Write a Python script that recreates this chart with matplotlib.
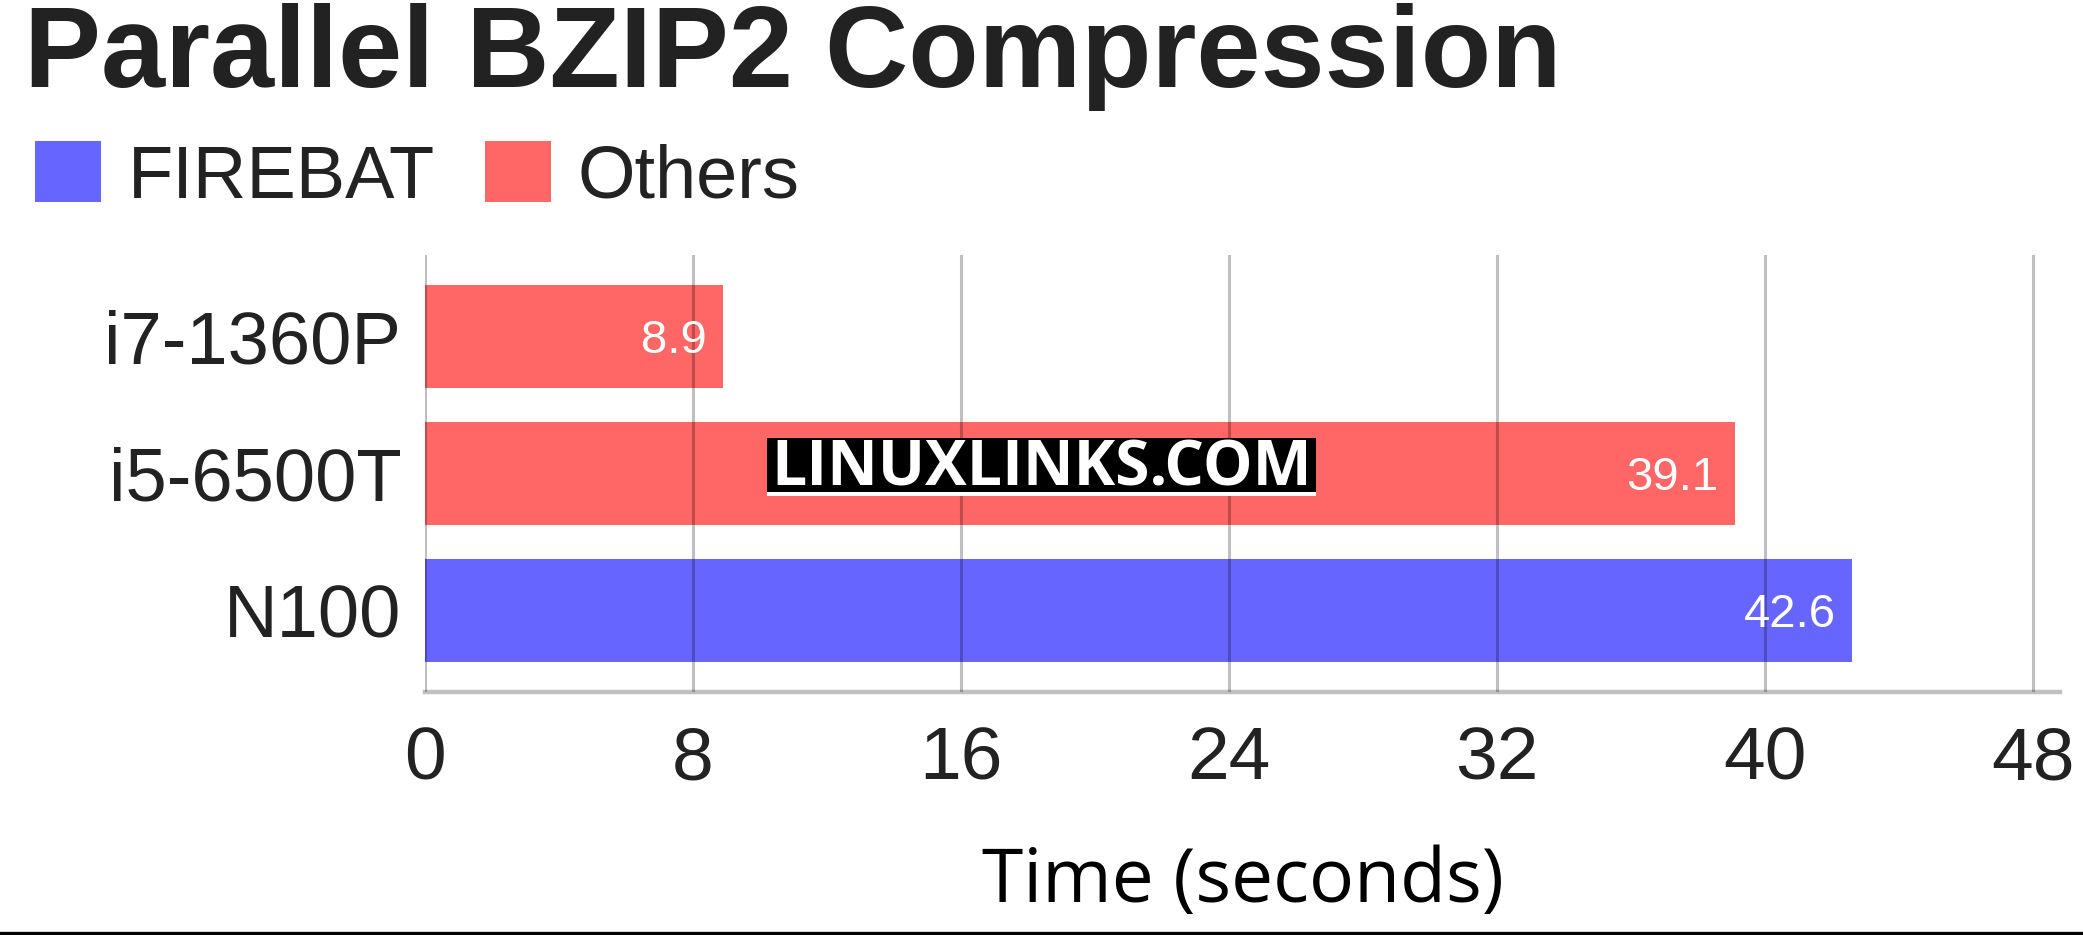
import matplotlib
matplotlib.use("Agg")
import matplotlib.pyplot as plt
from matplotlib.patches import Patch, Rectangle
from matplotlib.lines import Line2D

# data
cpus = ["i7-1360P", "i5-6500T", "N100"]
times = [8.9, 39.1, 42.6]
groups = ["Others", "Others", "FIREBAT"]
xticks = [0, 8, 16, 24, 32, 40, 48]

colours = {"FIREBAT": "#6666ff", "Others": "#ff6666"}
dark = "#222222"
sans = "Liberation Sans"
W, H = 2083, 935

fig = plt.figure(figsize=(W / 100, H / 100), dpi=100)
ax = fig.add_axes([0.2040, 0.2599, 0.7850, 0.4674])

ypos = list(range(len(cpus)))
bars = ax.barh(ypos, times, height=0.75,
               color=[colours[g] for g in groups], zorder=1)

ax.set_ylim(len(cpus) - 1 + 0.595, -0.595)
ax.set_xlim(0, 48.8)
ax.set_xticks(xticks)
ax.set_xticklabels([str(t) for t in xticks], fontsize=54, family=sans, color=dark)
ax.set_yticks(ypos)
ax.set_yticklabels(cpus, fontsize=53.5, family=sans, color=dark)
ax.tick_params(axis="x", length=0, pad=24)
ax.tick_params(axis="y", length=0, pad=17)

# vertical grid drawn over the bars
ax.grid(axis="x", color="black", alpha=0.25, linewidth=2.2, zorder=3)
ax.grid(axis="y", visible=False)
ax.set_axisbelow(False)
for s in ["top", "right", "left"]:
    ax.spines[s].set_visible(False)
ax.spines["bottom"].set_color("#c0c0c0")
ax.spines["bottom"].set_linewidth(3.2)

# value labels
for b, v in zip(bars, times):
    ax.annotate(f"{v}", xy=(v, b.get_y() + b.get_height() / 2),
                xytext=(-12, 0), textcoords="offset points",
                ha="right", va="center_baseline", color="white",
                fontsize=34, family=sans, zorder=4)

ax.set_xlabel("Time (seconds)", fontsize=54, family="Open Sans",
              color="black", va="baseline")
ax.xaxis.set_label_coords(0.5, -0.4805)

# title
fig.text(0.0115, 1 - 87 / H, "Parallel BZIP2 Compression", fontsize=83,
         family=sans, weight="bold", color=dark, va="baseline", ha="left")

# legend
handles = [Patch(facecolor=colours["FIREBAT"], label="FIREBAT"),
           Patch(facecolor=colours["Others"], label="Others")]
leg = fig.legend(handles=handles, loc="center left",
                 bbox_to_anchor=(35 / W, 1 - 177 / H), ncol=2,
                 frameon=False, prop={"family": sans, "size": 53.3},
                 handlelength=0.89, handleheight=0.89, handletextpad=0.36,
                 columnspacing=0.68, borderpad=0, borderaxespad=0)
for t in leg.get_texts():
    t.set_color(dark)

# watermark: black plate with a thin white strip under it
fig.add_artist(Rectangle((767 / W, 1 - 496 / H), 549 / W, 4 / H,
                         transform=fig.transFigure, facecolor="white",
                         edgecolor="none", zorder=5))
fig.add_artist(Rectangle((767 / W, 1 - 492 / H), 549 / W, 54 / H,
                         transform=fig.transFigure, facecolor="black",
                         edgecolor="none", zorder=5))
fig.text(1041.5 / W, 1 - 486 / H, "LINUXLINKS.COM", fontsize=45,
         family="Open Sans", weight="bold", color="white", ha="center",
         va="baseline", zorder=6)

# bottom rule
fig.add_artist(Line2D([0, 1], [1.6 / H, 1.6 / H], color="black",
                      linewidth=2.4, transform=fig.transFigure))

fig.savefig("out.png", dpi=100)
